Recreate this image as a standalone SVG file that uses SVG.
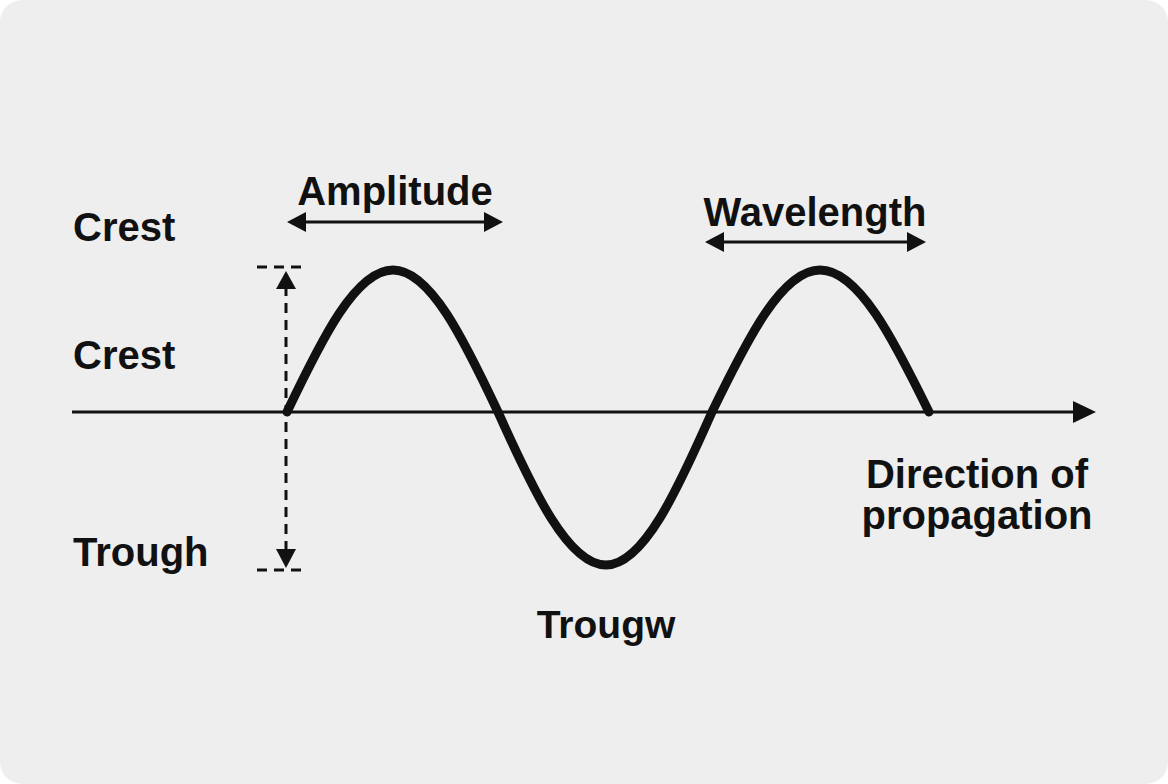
<svg xmlns="http://www.w3.org/2000/svg" width="1168" height="784" viewBox="0 0 1168 784">
<defs>
<style>
.t{font-family:"Liberation Sans",Arial,sans-serif;font-weight:bold;font-size:40px;fill:#111}
.ln{stroke:#111;stroke-width:3;fill:none}
.dash{stroke:#111;stroke-width:3;fill:none;stroke-dasharray:10 7}
.head{fill:#111}
</style>
<marker id="ah" markerWidth="10" markerHeight="10" refX="8" refY="5" orient="auto-start-reverse" markerUnits="userSpaceOnUse" viewBox="0 0 10 10">
<path d="M0,0 L10,5 L0,10 Z" fill="#111"/>
</marker>
</defs>
<rect x="0" y="0" width="1168" height="784" fill="#ffffff"/>
<rect x="0" y="0" width="1168" height="784" rx="22" fill="#eeeeee"/>
<g id="connectors">
<line class="ln" x1="72" y1="412" x2="1076" y2="412"/>
<path class="head" d="M1073,401 L1096,412 L1073,423 Z"/>
<line class="ln" x1="300" y1="222" x2="490" y2="222"/>
<path class="head" d="M287,222 L306,212 L306,232 Z"/>
<path class="head" d="M503,222 L484,212 L484,232 Z"/>
<line class="ln" x1="720" y1="242" x2="912" y2="242"/>
<path class="head" d="M705,242 L724,232 L724,252 Z"/>
<path class="head" d="M926,242 L907,232 L907,252 Z"/>
<line class="dash" x1="286" y1="286" x2="286" y2="552"/>
<path class="head" d="M286,271 L276,289 L296,289 Z"/>
<path class="head" d="M286,568 L276,549 L296,549 Z"/>
<line class="dash" x1="257" y1="267" x2="308" y2="267"/>
<line class="dash" x1="257" y1="570" x2="308" y2="570"/>
</g>
<g id="wave">
<path d="M287,412 C321.6,339.3 355.7,270 393,270 C430,270 463.8,339.3 498,412 C533.2,490.3 568,565 606,565 C643.3,565 677.4,490.3 712,412 C747.2,339.3 782,270 820,270 C858.4,270 893.5,339.3 929,412" fill="none" stroke="#111" stroke-width="9" stroke-linecap="round"/>
</g>
<g id="label-amplitude"><text class="t" x="395" y="205" text-anchor="middle">Amplitude</text></g>
<g id="label-wavelength"><text class="t" x="815" y="226" text-anchor="middle">Wavelength</text></g>
<g id="label-crest1"><text class="t" x="73" y="241">Crest</text></g>
<g id="label-crest2"><text class="t" x="73" y="369">Crest</text></g>
<g id="label-trough"><text class="t" x="73" y="566" font-size="38">Trough</text></g>
<g id="label-trougw"><text class="t" x="606" y="638" text-anchor="middle" style="font-size:39px">Trougw</text></g>
<g id="label-direction">
<text class="t" x="977" y="488" text-anchor="middle">Direction of</text>
<text class="t" x="977" y="529" text-anchor="middle">propagation</text>
</g>
</svg>
